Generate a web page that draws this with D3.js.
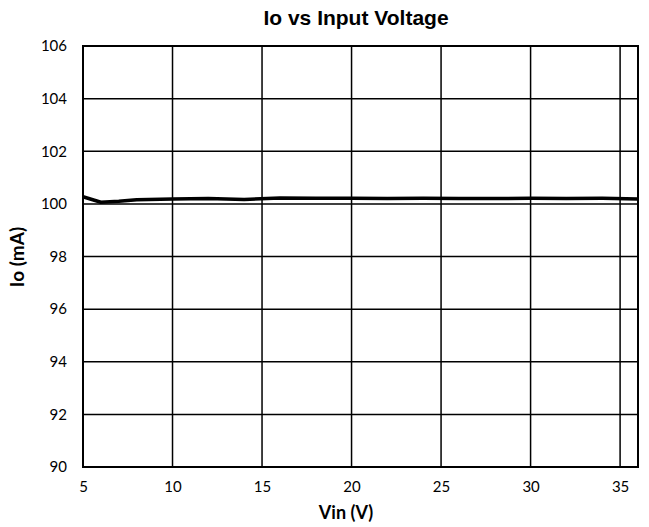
<!DOCTYPE html>
<html><head><meta charset="utf-8">
<script src="https://cdn.jsdelivr.net/npm/d3@7"></script>
<style>body{margin:0;background:#fff}</style>
</head><body>
<svg id="c" width="649" height="527"></svg>
<script>
const vin = [5, 6, 7, 8, 10, 12, 14, 16, 18, 20, 22, 24, 26, 28, 30, 32, 34, 36];
const io  = [100.27, 100.06, 100.1, 100.16, 100.19, 100.2, 100.17, 100.22, 100.21, 100.21, 100.2, 100.21, 100.2, 100.2, 100.21, 100.2, 100.21, 100.19];
const xTicks = [5, 10, 15, 20, 25, 30, 35];
const xGrid = [10, 15, 20, 25, 30, 35];
const yTicks = [90, 92, 94, 96, 98, 100, 102, 104, 106];

const svg = d3.select('#c');
const L = 83, R = 638, T = 46, B = 467;
const x = d3.scaleLinear().domain([5, 36]).range([L, R]);
const y = d3.scaleLinear().domain([90, 106]).range([B, T]);

// gridlines
svg.append('g').selectAll('line').data(yTicks.slice(1)).join('line')
  .attr('x1', L).attr('x2', R).attr('y1', d => y(d)).attr('y2', d => y(d))
  .attr('stroke', '#000').attr('stroke-width', 1.5);
svg.append('g').selectAll('line').data(xGrid).join('line')
  .attr('y1', T).attr('y2', B).attr('x1', d => x(d)).attr('x2', d => x(d))
  .attr('stroke', '#000').attr('stroke-width', 1.5);
// border
svg.append('rect').attr('x', L).attr('y', T).attr('width', R - L).attr('height', B - T)
  .attr('fill', 'none').attr('stroke', '#000').attr('stroke-width', 2);

// axes labels
const xa = d3.axisBottom(x).tickValues(xTicks).tickSize(0).tickPadding(14);
svg.append('g').attr('transform', `translate(0,${B})`).call(xa)
  .call(g => g.select('.domain').remove())
  .selectAll('text').attr('font-family', 'Lato, "Open Sans", sans-serif').attr('font-size', 15).attr('fill', '#000');
const ya = d3.axisLeft(y).tickValues(yTicks).tickSize(0).tickPadding(16);
svg.append('g').attr('transform', `translate(${L},0)`).call(ya)
  .call(g => g.select('.domain').remove())
  .selectAll('text').attr('font-family', 'Lato, "Open Sans", sans-serif').attr('font-size', 15).attr('fill', '#000');

// line
svg.append('path').datum(vin.map((v, i) => [v, io[i]]))
  .attr('d', d3.line().x(d => x(d[0])).y(d => y(d[1])))
  .attr('fill', 'none').attr('stroke', '#000').attr('stroke-width', 3.5).attr('stroke-linejoin', 'round');

// titles
svg.append('text').attr('x', 356).attr('y', 25).attr('text-anchor', 'middle')
  .attr('font-family', '"Liberation Sans", Arial, sans-serif').attr('font-weight', 'bold').attr('font-size', 21)
  .text('Io vs Input Voltage');
svg.append('text').attr('x', 346).attr('y', 519).attr('text-anchor', 'middle')
  .attr('font-family', 'Lato, "Open Sans", sans-serif').attr('font-weight', 'bold').attr('font-size', 18)
  .text('Vin (V)');
svg.append('text').attr('transform', `translate(24,257) rotate(-90)`).attr('text-anchor', 'middle')
  .attr('font-family', 'Lato, "Open Sans", sans-serif').attr('font-weight', 'bold').attr('font-size', 19)
  .text('Io (mA)');
</script>
</body></html>
